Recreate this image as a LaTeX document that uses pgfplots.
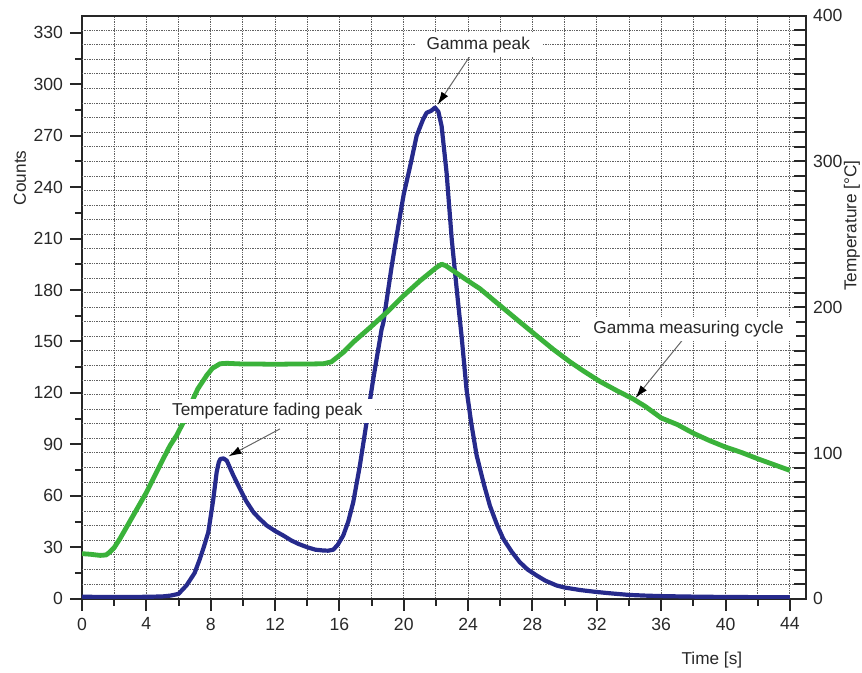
\documentclass[border=0pt]{standalone}
\usepackage{fontspec}
\setmainfont{Liberation Sans}
\usepackage{pgfplots}
\pgfplotsset{compat=1.18}
\usetikzlibrary{arrows.meta}
\definecolor{cblue}{RGB}{38,42,140}
\definecolor{cgreen}{RGB}{58,178,58}
\definecolor{txt}{RGB}{40,40,40}

\pgfplotstableread{
t c
0 1.2
1 1.0
2 1.0
3 1.0
4 1.1
5 1.3
5.5 1.8
6.0 2.8
6.5 7.8
7.0 15
7.33 23.3
7.6 31
7.85 38.8
8.0 48
8.16 58
8.37 73.8
8.5 79.5
8.6 81.5
8.8 81.8
9.0 80.5
9.4 72
9.82 64
10.2 57
10.65 50.5
11.0 47
11.48 42.7
12.0 39.5
12.5 36.9
13.0 34
13.44 32
14.0 30
14.5 28.6
15.0 28.1
15.3 28
15.62 28.6
15.9 31.5
16.24 36.9
16.55 45
16.86 56.3
17.27 77.6
17.69 103
18.1 128
18.62 157
18.73 161
19.25 194
19.76 223
20.0 236
20.39 252
20.8 270
21.2 279.5
21.42 283.4
21.7 284.5
21.94 286.4
22.15 284
22.35 275.7
22.66 248.5
22.98 209.7
23.29 180.5
23.6 152.4
23.9 122
24.2 102
24.53 83.5
25.0 66
25.36 54
25.8 43
26.18 35
26.7 27.5
27.2 21.4
27.7 17
28.25 13.6
28.8 10.5
29.5 7.7
30.0 6.5
31.0 5
32.0 3.9
33 3
34 2.2
35 1.8
36 1.5
38 1.2
40 1.0
42 0.9
44 0.8
}\counts

\pgfplotstableread{
t T
0 30.9
0.5 30.5
1.13 29.7
1.5 30
1.73 32
2.0 35
2.36 41.2
3.19 57.2
4.02 73.2
5.05 96
5.47 105
5.88 112
6.3 121
6.82 135
7.2 144
7.75 153.2
8.1 158
8.58 161.2
9 161.5
10 161
11 161
12 160.8
13 161
14 161
15 161.2
15.5 162.5
16.24 169
16.86 176
17.9 186
19 197
20 208
21 218
22 227
22.35 229.5
22.6 228.5
23 225.5
24 218
24.73 212.7
26 201
27.2 190
28.3 180
29.3 171
30.33 162.5
31.2 156
32.2 149
33.2 143
34.26 137
35 132
36 124
37 119.5
38 113.5
39 108.5
40 104
41 100.3
42 96
43 92
44 88
}\temp

\begin{document}
\begin{tikzpicture}[font=\fontsize{8.6}{10}\selectfont, text=txt]
\begin{axis}[
  name=ax1,
  scale only axis, width=362pt, height=291.5pt,
  xmin=0, xmax=45, ymin=0, ymax=340,
  axis line style={line width=1pt, black!85},
  xtick={0,4,...,44}, minor x tick num=1,
  ytick={0,30,...,330}, minor y tick num=1,
  xtick pos=bottom, ytick pos=left,
  tick align=outside,
  major tick length=6pt, minor tick length=3.5pt,
  every tick/.style={line width=1pt, black!85},
  xmajorgrids, xminorgrids,
  grid style={black!62, dash pattern=on 0.7pt off 0.5pt, line width=0.5pt},
  extra y ticks={8.5,17,25.5,34,42.5,51,59.5,68,76.5,85,93.5,102,110.5,119,127.5,136,144.5,153,161.5,170,178.5,187,195.5,204,212.5,221,229.5,238,246.5,255,263.5,272,280.5,289,297.5,306,314.5,323,331.5},
  extra y tick labels={},
  extra y tick style={ymajorgrids=true, major tick length=0pt},
  /pgf/number format/assume math mode=true,
  ticklabel style={font=\fontsize{8.8}{10}\selectfont},
  xlabel={Time [s]}, ylabel={Counts},
  xlabel style={at={(axis description cs:0.870,-0.1046)}, anchor=center},
  ylabel style={at={(axis description cs:-0.0856,0.722)}, anchor=center},
]
\addplot[cblue, line width=2.1pt, line join=round] table[x=t, y=c] {\counts};
\coordinate (gpTip) at (axis cs:22.1,288);
\coordinate (gpTxt) at (axis cs:24.63,322.7);
\coordinate (gpFrom) at (axis cs:24.11,316.4);
\coordinate (tfTip) at (axis cs:9.1,83);
\coordinate (tfTxt) at (axis cs:11.52,109.3);
\coordinate (tfFrom) at (axis cs:12.3,99);
\coordinate (gmTip) at (axis cs:34.4,117);
\coordinate (gmTxt) at (axis cs:37.7,157.3);
\coordinate (gmFrom) at (axis cs:37.37,151.4);
\end{axis}
\begin{axis}[
  scale only axis, width=362pt, height=291.5pt,
  xmin=0, xmax=45, ymin=0, ymax=400,
  axis x line=none, axis y line*=right,
  axis line style={line width=1pt, black!85},
  ytick={0,100,...,400}, minor y tick num=9,
  ytick pos=right,
  tick align=inside,
  major tick length=6pt, minor tick length=6pt,
  every tick/.style={line width=1pt, black!85},
  /pgf/number format/assume math mode=true,
  ticklabel style={font=\fontsize{8.8}{10}\selectfont},
  ylabel={Temperature [°C]},
  ylabel style={at={(axis description cs:1.0635,0.64)}, anchor=center, rotate=0},
]
\addplot[cgreen, line width=2.4pt, line join=round] table[x=t, y=T] {\temp};
\end{axis}
\tikzset{ann/.style={-{Latex[length=6.5pt,width=4pt,color=black]}, black!60, line width=0.5pt},
         lab/.style={fill=white, inner xsep=6pt, inner ysep=2pt}}
\draw[ann] (gpFrom) -- (gpTip);
\node[lab] at (gpTxt) {Gamma peak};
\draw[ann] (tfFrom) -- (tfTip);
\node[lab] at (tfTxt) {Temperature fading peak};
\draw[ann] (gmFrom) -- (gmTip);
\node[lab] at (gmTxt) {Gamma measuring cycle};
\pgfresetboundingbox
\path ([shift={(-41pt,-37pt)}]ax1.south west) rectangle ([shift={(28pt,7.85pt)}]ax1.north east);
\end{tikzpicture}
\end{document}
